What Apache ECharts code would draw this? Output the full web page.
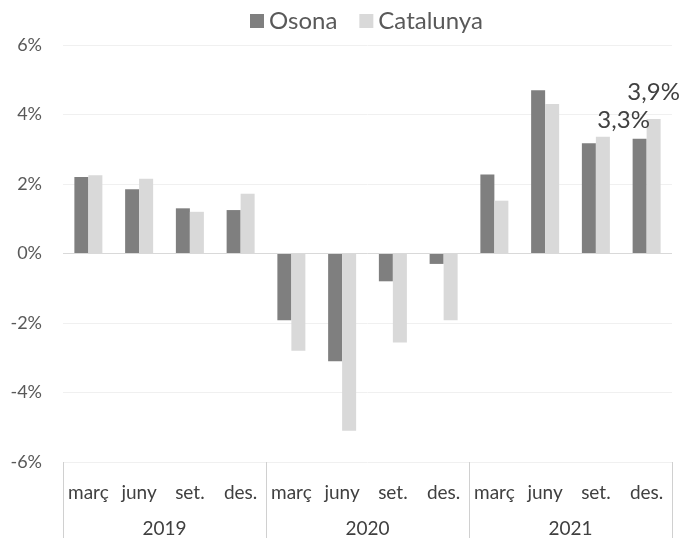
<!DOCTYPE html>
<html>
<head>
<meta charset="utf-8">
<script src="https://cdn.jsdelivr.net/npm/echarts@6/dist/echarts.min.js"></script>
<style>html,body{margin:0;padding:0;background:#fff}#c{width:680px;height:538px}</style>
</head>
<body>
<div id="c"></div>
<script>
const months = ['març','juny','set.','des.','març','juny','set.','des.','març','juny','set.','des.'];
const years = ['2019','2020','2021'];
const osona = [2.2, 1.85, 1.3, 1.25, -1.92, -3.1, -0.8, -0.3, 2.27, 4.7, 3.17, 3.3];
const catalunya = [2.25, 2.15, 1.2, 1.72, -2.8, -5.1, -2.56, -1.92, 1.52, 4.3, 3.36, 3.87];
const yTicks = [-6, -4, -2, 0, 2, 4, 6];
const labelledIndex = 11;

const FONT = 'Lato, "Open Sans", sans-serif';
const chart = echarts.init(document.getElementById('c'));

function withLabel(arr, text, offset) {
  return arr.map((v, i) => i === labelledIndex ? {
    value: v,
    label: {show: true, position: 'top', formatter: text, offset: offset,
      fontSize: 24, color: '#404040', fontFamily: FONT}
  } : v);
}
const fmt = v => (Math.round(v * 10) / 10).toFixed(1).replace('.', ',') + '%';

chart.setOption({
  animation: false,
  textStyle: {fontFamily: FONT},
  legend: {
    top: 4, left: 245,
    itemWidth: 14, itemHeight: 14, itemGap: 22,
    icon: 'rect',
    textStyle: {fontSize: 24, color: '#595959', fontFamily: FONT},
    data: ['Osona', 'Catalunya']
  },
  grid: {left: 63, right: 8, top: 45, bottom: 76},
  xAxis: [{
    type: 'category', data: months, position: 'bottom',
    axisLine: {show: false}, axisTick: {show: false},
    axisLabel: {interval: 0, margin: 21, fontSize: 19, color: '#404040', fontFamily: FONT}
  }, {
    type: 'category', data: years, position: 'bottom', offset: 76,
    axisLine: {show: false},
    axisTick: {show: true, inside: true, length: 76, interval: 0, lineStyle: {color: '#d0d0d0'}},
    axisLabel: {inside: true, margin: 0, fontSize: 19, color: '#404040', fontFamily: FONT, verticalAlign: 'bottom'}
  }],
  yAxis: {
    type: 'value', min: -6, max: 6, interval: 2,
    axisLine: {show: false}, axisTick: {show: false},
    axisLabel: {formatter: v => v + '%', margin: 21, fontSize: 18, color: '#595959', fontFamily: FONT},
    splitLine: {lineStyle: {color: '#f0f0f0', width: 1}}
  },
  series: [{
    name: 'Osona', type: 'bar', xAxisIndex: 0,
    data: withLabel(osona, fmt(osona[labelledIndex]), [-16, -2]),
    itemStyle: {color: '#7f7f7f'},
    barWidth: 14, barGap: '0%',
    markLine: {silent: true, symbol: 'none', label: {show: false},
      lineStyle: {color: '#d9d9d9', type: 'solid', width: 1},
      data: [{yAxis: 0}]}
  }, {
    name: 'Catalunya', type: 'bar', xAxisIndex: 0,
    data: withLabel(catalunya, fmt(catalunya[labelledIndex]), [0, -10]),
    itemStyle: {color: '#d9d9d9'},
    barWidth: 14, barGap: '0%'
  }]
});
</script>
</body>
</html>
